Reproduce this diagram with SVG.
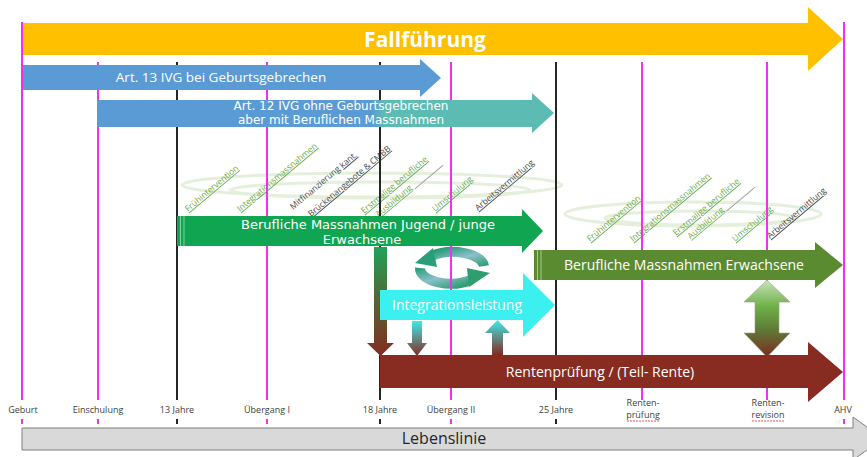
<svg xmlns="http://www.w3.org/2000/svg" width="867" height="457" viewBox="0 0 867 457">
<defs>
<linearGradient id="gArt12" x1="97" y1="0" x2="554" y2="0" gradientUnits="userSpaceOnUse">
<stop offset="0" stop-color="#5B9BD5"/><stop offset="0.6" stop-color="#5B9BD5"/><stop offset="0.63" stop-color="#5CBCB3"/><stop offset="1" stop-color="#5CBCB3"/>
</linearGradient>
<linearGradient id="gDownGreen" x1="0" y1="0" x2="0" y2="1">
<stop offset="0" stop-color="#1FA35A"/><stop offset="0.45" stop-color="#4F6A35"/><stop offset="1" stop-color="#842B20"/>
</linearGradient>
<linearGradient id="gDownCyan" x1="0" y1="0" x2="0" y2="1">
<stop offset="0" stop-color="#3EEAEA"/><stop offset="1" stop-color="#842B20"/>
</linearGradient>
<linearGradient id="gUpCyan" x1="0" y1="1" x2="0" y2="0">
<stop offset="0" stop-color="#842B20"/><stop offset="1" stop-color="#3EEAEA"/>
</linearGradient>
<linearGradient id="gDouble" x1="0" y1="0" x2="0" y2="1">
<stop offset="0" stop-color="#C9E2BC"/><stop offset="0.35" stop-color="#6DB045"/><stop offset="0.65" stop-color="#5E7A35"/><stop offset="1" stop-color="#7E2A20"/>
</linearGradient>
<linearGradient id="gCycle" x1="0" y1="0" x2="1" y2="1">
<stop offset="0" stop-color="#2A9E78"/><stop offset="0.5" stop-color="#8CC0CC"/><stop offset="1" stop-color="#2E9E70"/>
</linearGradient>
<style>
.lbl{font-family:"Open Sans","Liberation Sans",sans-serif;font-size:9px;fill:#404040;text-anchor:middle}
.wt{font-family:"Open Sans","Liberation Sans",sans-serif;fill:#FFFFFF;text-anchor:middle}
.wt2{font-family:"DejaVu Sans","Liberation Sans",sans-serif;fill:#FFFFFF;text-anchor:middle}
.rg{font-family:"Open Sans","Liberation Sans",sans-serif;font-size:8.5px;fill:#6AAA45;text-decoration:underline}
.rd{font-family:"Open Sans","Liberation Sans",sans-serif;font-size:8.5px;fill:#444444;text-decoration:underline}
.mag{stroke:#F030F0;stroke-width:2;fill:none}
.blk{stroke:#262626;stroke-width:2;fill:none}
.swirl{fill:none;stroke:#E4F0DC;stroke-width:3}
</style>
</defs>
<rect width="867" height="457" fill="#FFFFFF"/>

<g id="swirls">
<ellipse class="swirl" cx="372" cy="185" rx="190" ry="12"/>
<ellipse class="swirl" cx="380" cy="190" rx="150" ry="8" stroke-width="2"/>
<ellipse class="swirl" cx="693" cy="214" rx="128" ry="12"/>
<ellipse class="swirl" cx="700" cy="218" rx="95" ry="7" stroke-width="2"/>
</g>

<g id="labels-left">
<text class="rg" transform="translate(188,212) rotate(-40)">Frühintervention</text>
<text class="rg" transform="translate(240,212) rotate(-40)">Integrationsmassnahmen</text>
<text class="rd" transform="translate(293,210) rotate(-40)" style="text-decoration:none">Mitfinanzierung <tspan style="text-decoration:underline">kant.</tspan></text>
<text class="rd" transform="translate(311,217) rotate(-40)">Brückenangebote &amp; CMBB</text>
<g transform="translate(364,214) rotate(-40)">
<text class="rg" x="0" y="0">Erstmalige berufliche<tspan x="9" dy="12">Ausbildung</tspan></text>
<line x1="55" y1="13.5" x2="92" y2="13.5" stroke="#A0A0A0" stroke-width="1"/>
</g>
<text class="rg" transform="translate(435,212) rotate(-40)">Umschulung</text>
<text class="rd" transform="translate(478,211) rotate(-40)">Arbeitsvermittlung</text>
</g>

<g id="labels-right">
<text class="rg" transform="translate(590,242) rotate(-40)">Frühintervention</text>
<text class="rg" transform="translate(633,242) rotate(-40)">Integrationsmassnahmen</text>
<g transform="translate(676,236) rotate(-40)">
<text class="rg" x="0" y="0">Erstmalige berufliche<tspan x="9" dy="12">Ausbildung</tspan></text>
<line x1="55" y1="13.5" x2="92" y2="13.5" stroke="#A0A0A0" stroke-width="1"/>
</g>
<text class="rg" transform="translate(735,242) rotate(-40)">Umschulung</text>
<text class="rd" transform="translate(770,239) rotate(-40)">Arbeitsvermittlung</text>
</g>

<g id="cycle">
<path d="M484,266 A31,15 0 0 0 432,256" fill="none" stroke="url(#gCycle)" stroke-width="10"/>
<polygon points="415,263 433,248 437,267" fill="#2A9E78"/>
<path d="M420,268 A31,15 0 0 0 471,280" fill="none" stroke="url(#gCycle)" stroke-width="10"/>
<polygon points="490,273 469,287 467,268" fill="#2E9E70"/>
</g>

<g id="lines">
<line class="mag" x1="22" y1="22" x2="22" y2="400" stroke-width="3"/>
<line class="mag" x1="98" y1="62" x2="98" y2="400"/>
<line class="blk" x1="177" y1="62" x2="177" y2="400"/>
<line class="mag" x1="267" y1="62" x2="267" y2="400"/>
<line class="blk" x1="380" y1="62" x2="380" y2="400"/>
<line class="mag" x1="451" y1="62" x2="451" y2="400"/>
<line class="blk" x1="556" y1="62" x2="556" y2="400"/>
<line class="mag" x1="642" y1="62" x2="642" y2="400"/>
<line class="mag" x1="767" y1="62" x2="767" y2="400"/>
<line class="mag" x1="844" y1="22" x2="844" y2="400" stroke-width="3"/>
<line class="mag" x1="22" y1="419" x2="22" y2="424" stroke-width="3"/>
<line class="mag" x1="98" y1="419" x2="98" y2="424"/>
<line class="blk" x1="177" y1="419" x2="177" y2="424"/>
<line class="mag" x1="267" y1="419" x2="267" y2="424"/>
<line class="blk" x1="380" y1="419" x2="380" y2="424"/>
<line class="mag" x1="451" y1="419" x2="451" y2="424"/>
<line class="blk" x1="556" y1="419" x2="556" y2="424"/>
<line class="mag" x1="844" y1="419" x2="844" y2="424" stroke-width="3"/>
</g>

<g id="fallfuehrung">
<path d="M23,23 H808 V7 L843,39 L808,71 V55 H23 Z" fill="#FFC000"/>
<text class="wt" x="425" y="47" font-size="21" font-weight="bold">Fallführung</text>
</g>
<g id="art13">
<path d="M23,65 H420 V59 L441,78 L420,97 V90 H23 Z" fill="#5B9BD5"/>
<text class="wt" x="221" y="82" font-size="13.5">Art. 13 IVG bei Geburtsgebrechen</text>
</g>
<g id="art12">
<path d="M97,100 H532 V93 L554,113 L532,133 V127 H97 Z" fill="url(#gArt12)"/>
<text class="wt2" x="341" y="110" font-size="12">Art. 12 IVG ohne Geburtsgebrechen<tspan x="341" dy="14">aber mit Beruflichen Massnahmen</tspan></text>
</g>
<g id="bm-jugend">
<path d="M177,216 H522 V209 L543,231 L522,253 V246 H177 Z" fill="#10A550"/>
<line x1="180.5" y1="216" x2="180.5" y2="246" stroke="#7FD49E" stroke-width="1"/>
<line x1="184" y1="216" x2="184" y2="246" stroke="#7FD49E" stroke-width="1"/>
<text class="wt2" x="368" y="228.5" font-size="13">Berufliche Massnahmen Jugend / junge<tspan x="362" dy="15.2">Erwachsene</tspan></text>
</g>
<g id="bm-erwachsene">
<path d="M534,250 H815 V242 L843,265 L815,288 V280 H534 Z" fill="#5B8B31"/>
<line x1="537.5" y1="250" x2="537.5" y2="280" stroke="#A9C98E" stroke-width="1"/>
<line x1="541" y1="250" x2="541" y2="280" stroke="#A9C98E" stroke-width="1"/>
<text class="wt" x="684" y="270" font-size="14">Berufliche Massnahmen Erwachsene</text>
</g>
<g id="down1">
<path d="M374,247 H387 V343 H394 L380.5,356 L367,343 H374 Z" fill="url(#gDownGreen)"/>
</g>
<g id="integrationsleistung">
<path d="M380,290 H523 V273 L555,305 L523,337 V320 H380 Z" fill="#3DF0F0"/>
<text class="wt" x="457" y="310" font-size="14">Integrationsleistung</text>
</g>
<g id="down2">
<path d="M412,321 H422 V343 H427 L417,356 L407,343 H412 Z" fill="url(#gDownCyan)"/>
</g>
<g id="up1">
<path d="M492,355 V333 H485 L497.5,320 L510,333 H503 V355 Z" fill="url(#gUpCyan)"/>
</g>
<g id="double">
<path d="M767,280 L790,302 H779 V333 H790 L767,357 L744,333 H755 V302 H744 Z" fill="url(#gDouble)" stroke="#9AA08A" stroke-width="0.6"/>
</g>
<g id="rente">
<path d="M380,355 H808 V342 L843,372 L808,402 V388 H380 Z" fill="#882C22"/>
<text class="wt" x="600" y="377" font-size="14">Rentenprüfung / (Teil- Rente)</text>
</g>
<g id="lebenslinie">
<path d="M22,428 H853 V417 L883,438.5 L853,460 V450 H22 Z" fill="#D9D9D9" stroke="#808080" stroke-width="1"/>
<text x="444" y="444" font-family="Open Sans, Liberation Sans, sans-serif" font-size="16" fill="#262626" text-anchor="middle">Lebenslinie</text>
</g>

<g id="bottom-labels">
<text class="lbl" x="23" y="413">Geburt</text>
<text class="lbl" x="98" y="413">Einschulung</text>
<text class="lbl" x="177" y="413">13 Jahre</text>
<text class="lbl" x="267" y="413">Übergang I</text>
<text class="lbl" x="380" y="413">18 Jahre</text>
<text class="lbl" x="451" y="413">Übergang II</text>
<text class="lbl" x="556" y="413">25 Jahre</text>
<text class="lbl" x="643" y="406">Renten-<tspan x="643" dy="12">prüfung</tspan></text>
<text class="lbl" x="768" y="406">Renten-<tspan x="768" dy="12">revision</tspan></text>
<text class="lbl" x="843" y="413">AHV</text>
<line x1="627" y1="421" x2="659" y2="421" stroke="#E03030" stroke-width="0.8" stroke-dasharray="2 1"/>
<line x1="752" y1="421" x2="784" y2="421" stroke="#E03030" stroke-width="0.8" stroke-dasharray="2 1"/>
</g>
</svg>
